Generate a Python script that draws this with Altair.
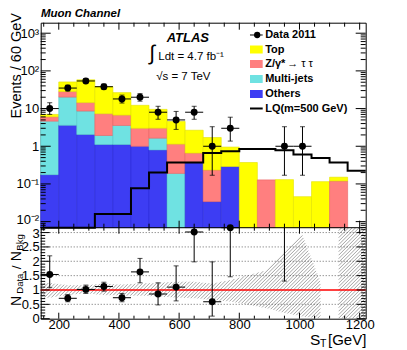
import altair as alt
import numpy as np
import pandas as pd

# ---------------- values ----------------
bin_lo    = [140, 200, 260, 320, 380, 440, 500, 560, 620, 680, 740, 800, 860, 920, 980, 1040, 1100, 1160]
bin_w     = 60
others    = [0.176, 3.6, 2.05, 1.11, 1.11, 1.0, 0.8, 0.0, 0.37, 0.034, 0.29, 0, 0, 0, 0, 0, 0, 0]
multijets = [4.46, 16.6, 6.55, 0.82, 2.45, 0, 0.84, 0.19, 0, 0, 0, 0, 0, 0, 0, 0, 0, 0]
ztautau   = [1.42, 8.1, 5.8, 5.37, 3.14, 2.0, 1.38, 0.95, 0.29, 0.2, 0, 0, 0.128, 0, 0, 0, 0.12, 0]
top       = [0.94, 22.6, 43.6, 31.0, 19.8, 9.2, 6.5, 3.4, 2.0, 1.47, 0.66, 0.37, 0.0, 0.13, 0.046, 0.115, 0.031, 0]
lq500     = [0, 0, 0, 0.016, 0.016, 0.077, 0.2, 0.37, 0.37, 0.66, 0.74, 0.85, 0.85, 0.78, 0.6, 0.49, 0.37, 0.225]
data_n    = [10, 35, 54, 38, 18, 20, 8, 5, 8, 1, 3, 0, 0, 1, 1, 0, 0, 0]
data_lo   = [7.0, 29.2, 47.0, 32.0, 14.0, 15.7, 5.2, 2.8, 5.2, 0.17, 1.37, 0, 0, 0.17, 0.17, 0, 0, 0]
data_hi   = [14.3, 41.8, 61.5, 44.8, 22.8, 25.0, 11.5, 8.4, 11.5, 3.3, 5.9, 0, 0, 3.3, 3.3, 0, 0, 0]
ratio     = [1.54, 0.71, 1.02, 1.12, 0.73, 1.63, 0.86, 1.10, 3.02, 0.59, 3.2, 0, 0, 7.7, 20.0, 0, 0, 0]
ratio_lo  = [1.08, 0.59, 0.88, 0.96, 0.59, 1.25, 0.48, 0.62, 1.98, 0.09, 1.46, 0, 0, 1.31, 3.4, 0, 0, 0]
ratio_hi  = [2.19, 0.84, 1.17, 1.27, 0.88, 2.10, 1.25, 1.84, 4.3, 1.98, 6.3, 0, 0, 25, 60, 0, 0, 0]
band_e    = [140, 170, 230, 290, 350, 410, 470, 530, 590, 650, 710, 770, 830, 890, 950, 1010, 1070]
band_lo   = [0.73, 0.73, 0.82, 0.88, 0.82, 0.80, 0.80, 0.77, 0.73, 0.71, 0.65, 0.59, 0.48, 0.36, 0.2, 0.07, 0.0]
band_hi   = [1.25, 1.25, 1.17, 1.17, 1.23, 1.19, 1.23, 1.25, 1.29, 1.29, 1.23, 1.35, 1.52, 1.69, 2.3, 2.91, 1.27]
band2_e   = [1130, 1220]

comp_names   = ["Top", "Z", "Multi-jets", "Others"]
comp_colors  = ["#FFFF00", "#FF7F7F", "#6FE2E2", "#3D3DF3"]
comp_strokes = ["#E2E200", "#E86464", "#55CACA", "#2B2BD6"]

FONT = "Liberation Sans"
W, H1, H2 = 325, 205, 91
H = H1 + H2
XMIN, XMAX = 140, 1220
YMIN, YMAX = 0.0069, 1900
RMIN, RMAX = 0.0, 3.17

xs = alt.Scale(domain=[XMIN, XMAX], nice=False, zero=False, range=[0, W])
ys = alt.Scale(type="log", domain=[YMIN, YMAX], nice=False, range=[H1, 0], clamp=True)
rs = alt.Scale(domain=[RMIN, RMAX], nice=False, zero=False, range=[H, H1], clamp=True)

x_axis = alt.Axis(values=[200, 400, 600, 800, 1000, 1200], title=None, format="d", labelPadding=0,
                  labelFlush=False, orient="bottom")
y_axis_up = alt.Axis(values=[0.01, 0.1, 1, 10, 100, 1000], title=None, labelPadding=2, orient="left",
                     labelOffset=alt.condition("datum.value < 0.05", alt.value(-2), alt.value(0)),
                     labelExpr="datum.value > 999 ? '10³' : datum.value > 99 ? '10²' : datum.value > 9 ? '10' : datum.value > 0.9 ? '1' : datum.value > 0.09 ? '10⁻¹' : '10⁻²'")
y_axis_lo = alt.Axis(values=[0, 0.5, 1, 1.5, 2, 2.5, 3], title=None, format="~g", labelPadding=1.5, orient="left",
                     labelOffset=alt.condition("datum.value > 2.9", alt.value(0.8), alt.value(0)))


def X(f):
    return alt.X(f, scale=xs, axis=x_axis)


def YU(f):
    return alt.Y(f, scale=ys, axis=y_axis_up)


def YL(f):
    return alt.Y(f, scale=rs, axis=y_axis_lo)


# ---------------- upper panel ----------------
rows = []
for i, lo in enumerate(bin_lo):
    cum = 0.0
    for name, vals in [("Others", others), ("Multi-jets", multijets), ("Z", ztautau), ("Top", top)]:
        v = vals[i]
        if v > 0:
            rows.append({"x0": lo, "x1": lo + bin_w, "y0": cum if cum > 0 else YMIN, "y1": cum + v, "comp": name})
            cum += v
stack_df = pd.DataFrame(rows)

stack = alt.Chart(stack_df).mark_rect(strokeWidth=0.6).encode(
    x=X("x0:Q"), x2="x1", y=YU("y0:Q"), y2="y1",
    color=alt.Color("comp:N", scale=alt.Scale(domain=comp_names, range=comp_colors), legend=None),
    stroke=alt.Stroke("comp:N", scale=alt.Scale(domain=comp_names, range=comp_strokes), legend=None),
)

lq_df = pd.DataFrame({"e": bin_lo + [XMAX], "v": [v if v > 0 else YMIN for v in lq500] + [lq500[-1]]})
lq = alt.Chart(lq_df).mark_line(interpolate="step-after", color="black", strokeWidth=2).encode(
    x=X("e:Q"), y=YU("v:Q"))

dd = pd.DataFrame({"c": [b + bin_w / 2 for b in bin_lo], "n": data_n, "lo": data_lo, "hi": data_hi})
dd = dd[dd.n > 0].copy()
dd["l"] = dd.c - bin_w / 2
dd["r"] = dd.c + bin_w / 2
base_d = alt.Chart(dd)
d_v = base_d.mark_rule(color="black", strokeWidth=1).encode(x=X("c:Q"), y=YU("lo:Q"), y2="hi")
d_h = base_d.mark_rule(color="black", strokeWidth=1).encode(x=X("l:Q"), x2="r", y=YU("n:Q"))
d_c1 = base_d.mark_tick(color="black", orient="horizontal", size=5, thickness=1).encode(x=X("c:Q"), y=YU("lo:Q"))
d_c2 = base_d.mark_tick(color="black", orient="horizontal", size=5, thickness=1).encode(x=X("c:Q"), y=YU("hi:Q"))
d_p = base_d.mark_circle(color="black", opacity=1, size=48).encode(x=X("c:Q"), y=YU("n:Q"))


def txt(t, x, y, size=11, weight="normal", style="normal", align="left", baseline="middle", angle=0, color="black"):
    return alt.Chart(pd.DataFrame({"t": [t]})).mark_text(
        text=t, font=FONT, fontSize=size, fontWeight=weight, fontStyle=style, align=align,
        baseline=baseline, angle=angle, color=color).encode(x=alt.value(x), y=alt.value(y))


def box(x0, x1, y0, y1, color):
    return alt.Chart(pd.DataFrame({"a": [0]})).mark_rect(color=color).encode(
        x=alt.value(x0), x2=alt.value(x1), y=alt.value(y0), y2=alt.value(y1))


def hline(x0, x1, y, width=1, color="black"):
    return alt.Chart(pd.DataFrame({"a": [0]})).mark_rule(color=color, strokeWidth=width).encode(
        x=alt.value(x0), x2=alt.value(x1), y=alt.value(y))


def ticks_y(vals, ych, length):
    df = pd.DataFrame({"v": vals})
    left = alt.Chart(df).mark_rule(color="black", strokeWidth=1).encode(
        y=ych("v:Q"), x=alt.value(0), x2=alt.value(length))
    right = alt.Chart(df).mark_rule(color="black", strokeWidth=1).encode(
        y=ych("v:Q"), x=alt.value(W - length), x2=alt.value(W))
    return [left, right]


def ticks_x(vals, length, y_top, y_bot):
    df = pd.DataFrame({"v": vals})
    bot = alt.Chart(df).mark_rule(color="black", strokeWidth=1).encode(
        x=X("v:Q"), y=alt.value(y_bot - length), y2=alt.value(y_bot))
    tp = alt.Chart(df).mark_rule(color="black", strokeWidth=1).encode(
        x=X("v:Q"), y=alt.value(y_top), y2=alt.value(y_top + length))
    return [bot, tp]


x_major = [200, 400, 600, 800, 1000, 1200]
x_minor = [v for v in range(150, 1220, 50) if v not in x_major]
y_major = [0.01, 0.1, 1, 10, 100, 1000]
y_minor = [k * 10.0 ** d for d in range(-3, 4) for k in range(2, 10) if YMIN < k * 10.0 ** d < YMAX]

up_ticks = (ticks_y(y_major, YU, 10) + ticks_y(y_minor, YU, 5)
            + ticks_x(x_major, 7, 0, H1) + ticks_x(x_minor, 4, 0, H1))

LX0, LX1, LT = 209.3, 222, 224.5
leg = [
    hline(LX0, LX1, 12.3, 1),
    alt.Chart(pd.DataFrame({"a": [0]})).mark_circle(color="black", opacity=1, size=40).encode(
        x=alt.value(216.5), y=alt.value(12.3)),
    txt("Data 2011", LT, 12.6, 11, "bold"),
    box(LX0, LX1, 22.8, 30.8, comp_colors[0]), txt("Top", LT, 27.1, 11, "bold"),
    box(LX0, LX1, 37.3, 45.3, comp_colors[1]), txt("Z/γ*", LT, 41.6, 11, "bold"),
    txt("→ τ τ", 246.5, 41.6, 11),
    box(LX0, LX1, 52.3, 60.3, comp_colors[2]), txt("Multi-jets", LT, 56.6, 11, "bold"),
    box(LX0, LX1, 67.3, 75.3, comp_colors[3]), txt("Others", LT, 71.6, 11, "bold"),
    hline(LX0, LX1, 85.8, 2), txt("LQ(m=500 GeV)", LT, 86.1, 11, "bold"),
]
notes = [
    txt("Muon Channel", 0.3, -6, 11.5, "bold", "italic", baseline="alphabetic"),
    txt("ATLAS", 126, 19, 13, "bold", "italic", baseline="alphabetic"),
    txt("∫", 108.6, 31, 21, baseline="middle"),
    txt("Ldt = 4.7 fb⁻¹", 117.6, 37.3, 11.5, baseline="alphabetic"),
    txt("√s = 7 TeV", 115.5, 57.3, 11.5, baseline="alphabetic"),
    txt("Events / 60 GeV", -19.4, -9.7, 14.5, align="right", baseline="alphabetic", angle=270),
]

upper = alt.layer(stack, lq, d_v, d_h, d_c1, d_c2, d_p, *up_ticks, *leg, *notes)

# ---------------- ratio panel ----------------
xpx = np.arange(0, W + 0.001, 0.25)
E = XMIN + xpx / W * (XMAX - XMIN)
lo_b = np.full_like(E, np.nan)
hi_b = np.full_like(E, np.nan)
m1 = (E >= band_e[0]) & (E <= band_e[-1])
lo_b[m1] = np.interp(E[m1], band_e, band_lo)
hi_b[m1] = np.interp(E[m1], band_e, band_hi)
m2 = (E >= band2_e[0]) & (E <= band2_e[1])
lo_b[m2] = RMIN
hi_b[m2] = RMAX
segs = []
for c in np.arange(-H2, W, 3.5):
    r = (xpx - c) / H2 * (RMAX - RMIN) + RMIN
    with np.errstate(invalid="ignore"):
        inside = (~np.isnan(lo_b)) & (r >= lo_b) & (r <= hi_b) & (r >= RMIN) & (r <= RMAX)
    edges = np.flatnonzero(np.diff(np.concatenate([[0], inside.astype(int), [0]])))
    for s, e in zip(edges[::2], edges[1::2]):
        e = e - 1
        if e > s:
            segs.append((E[s], r[s], E[e], r[e]))
hatch_df = pd.DataFrame(segs, columns=["e1", "r1", "e2", "r2"])
hatch = alt.Chart(hatch_df).mark_rule(color="#7d7d7d", strokeWidth=0.7).encode(
    x=X("e1:Q"), x2="e2", y=YL("r1:Q"), y2="r2")

grid = alt.Chart(pd.DataFrame({"g": [0.5, 1.5, 2, 2.5, 3]})).mark_rule(
    color="#444444", strokeWidth=0.8, strokeDash=[1, 2]).encode(y=YL("g:Q"))
unity = alt.Chart(pd.DataFrame({"g": [1]})).mark_rule(color="#FF0000", strokeWidth=1.6).encode(y=YL("g:Q"))

rd = pd.DataFrame({"c": [b + bin_w / 2 for b in bin_lo], "n": data_n, "r": ratio, "lo": ratio_lo, "hi": ratio_hi})
rd = rd[rd.n > 0].copy()
rd["l"] = rd.c - bin_w / 2
rd["rr"] = rd.c + bin_w / 2
rd_in = rd[rd.r <= RMAX + 0.1]
r_v = alt.Chart(rd[rd.lo < RMAX]).mark_rule(color="black", strokeWidth=1).encode(x=X("c:Q"), y=YL("lo:Q"), y2="hi")
r_h = alt.Chart(rd_in).mark_rule(color="black", strokeWidth=1).encode(x=X("l:Q"), x2="rr", y=YL("r:Q"))
r_c1 = alt.Chart(rd[rd.lo < RMAX]).mark_tick(color="black", orient="horizontal", size=5, thickness=1).encode(
    x=X("c:Q"), y=YL("lo:Q"))
r_c2 = alt.Chart(rd[rd.hi < RMAX]).mark_tick(color="black", orient="horizontal", size=5, thickness=1).encode(
    x=X("c:Q"), y=YL("hi:Q"))
r_p = alt.Chart(rd_in).mark_circle(color="black", opacity=1, size=48).encode(x=X("c:Q"), y=YL("r:Q"))

r_major = [0, 0.5, 1, 1.5, 2, 2.5, 3]
r_minor = [round(0.1 * k, 1) for k in range(1, 32) if round(0.1 * k, 1) not in r_major]
lo_ticks = (ticks_y(r_major, YL, 9) + ticks_y(r_minor, YL, 4.5)
            + ticks_x(x_major, 6, H1, H) + ticks_x(x_minor, 3, H1, H))

OY = H1
lo_notes = [
    txt("N", -19.7, OY + 78.3, 14, baseline="alphabetic", angle=270),
    txt("Data", -18.2, OY + 66.0, 9.5, baseline="alphabetic", angle=270),
    txt("/", -19.7, OY + 41.5, 13.5, baseline="alphabetic", angle=270),
    txt("N", -19.7, OY + 33.5, 14, baseline="alphabetic", angle=270),
    txt("Bkg", -18.2, OY + 23.0, 9.5, baseline="alphabetic", angle=270),
    txt("S", 269.3, OY + 117.3, 15.5, baseline="alphabetic"),
    txt("T", 279.3, OY + 119.6, 10.5, baseline="alphabetic"),
    txt("[GeV]", 287.3, OY + 117.3, 15, baseline="alphabetic"),
    hline(0, W, H1, 1),
]

lower = alt.layer(hatch, grid, unity, r_v, r_h, r_c1, r_c2, r_p, *lo_ticks, *lo_notes)

chart = alt.layer(upper, lower).resolve_scale(y="independent").properties(
    width=W, height=H,
    padding={"left": 32.7, "top": 14.7, "right": 30, "bottom": 36},
    autosize=alt.AutoSizeParams(type="none"),
).configure_view(stroke="black", strokeWidth=1).configure_axis(
    labelFont=FONT, labelFontSize=13, labelColor="black", ticks=False, domain=False, grid=False,
    labelOverlap=False)

chart.save("out.html", embed_options={"renderer": "svg", "actions": False})
